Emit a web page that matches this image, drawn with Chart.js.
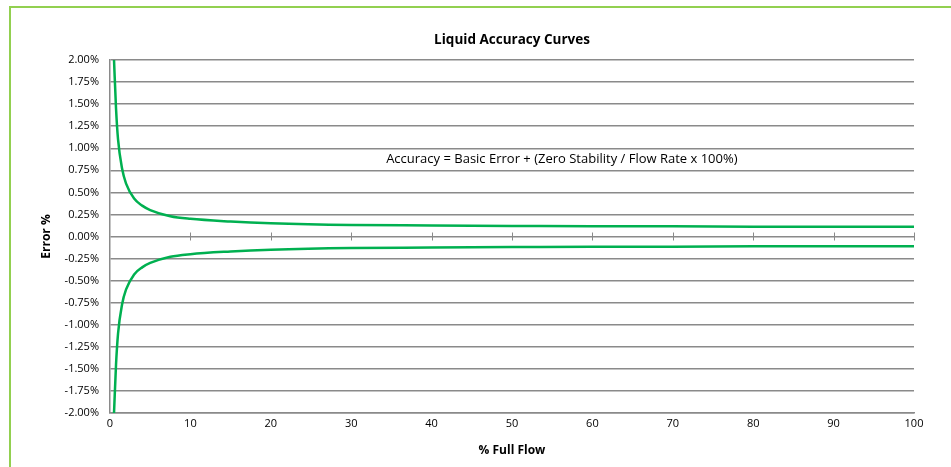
<!DOCTYPE html>
<html>
<head>
<meta charset="utf-8">
<script src="https://cdn.jsdelivr.net/npm/chart.js@4/dist/chart.umd.min.js"></script>
<style>
  html, body { margin: 0; padding: 0; background: #fff; overflow: hidden; }
  #wrap { position: relative; width: 951px; height: 467px; }
  #frame { position: absolute; left: 9px; top: 6px; width: 1000px; height: 500px;
           border-top: 2px solid #92D050; border-left: 2px solid #92D050; }
  canvas { position: absolute; left: 0; top: 0; }
</style>
</head>
<body>
<div id="wrap">
  <div id="frame"></div>
  <canvas id="chart" width="951" height="467"></canvas>
</div>
<script>
// values
const flowPct = [0.5, 0.75, 1, 1.5, 2, 3, 4, 5, 7.5, 10, 15, 20, 30, 40, 50, 60, 70, 80, 90, 100];
const upperError = [2.0, 1.45, 1.1, 0.77, 0.6, 0.43, 0.35, 0.3, 0.23, 0.2, 0.17, 0.15, 0.13, 0.125, 0.12, 0.115, 0.115, 0.11, 0.11, 0.11];
const lowerError = [-2.0, -1.45, -1.1, -0.77, -0.6, -0.43, -0.35, -0.3, -0.23, -0.2, -0.17, -0.15, -0.13, -0.125, -0.12, -0.115, -0.115, -0.11, -0.11, -0.11];
const xTicks = [0, 10, 20, 30, 40, 50, 60, 70, 80, 90, 100];

const chartTitle = 'Liquid Accuracy Curves';
const xTitle = '% Full Flow';
const yTitle = 'Error %';
const note = 'Accuracy = Basic Error + (Zero Stability / Flow Rate x 100%)';

const lineColor = '#00B050';
const gridColor = '#8a8a8a';
const textFont = '"Open Sans", "Liberation Sans", sans-serif';

const toPoints = (xs, ys) => xs.map((x, i) => ({ x: x, y: ys[i] }));

const extrasPlugin = {
    id: 'extras',
    afterDraw(chart) {
        const ctx = chart.ctx;
        const area = chart.chartArea;
        const xs = chart.scales.x;
        const ys = chart.scales.y;
        ctx.save();

        // tick marks on the zero line
        const y0 = ys.getPixelForValue(0);
        ctx.strokeStyle = gridColor;
        ctx.lineWidth = 1;
        xTicks.slice(1).forEach(v => {
            const px = Math.round(xs.getPixelForValue(v)) + 0.5;
            ctx.beginPath();
            ctx.moveTo(px, y0 - 4);
            ctx.lineTo(px, y0 + 4);
            ctx.stroke();
        });

        // titles
        ctx.fillStyle = '#000';
        ctx.textAlign = 'center';
        ctx.textBaseline = 'middle';
        ctx.font = 'bold 13.5px ' + textFont;
        ctx.fillText(chartTitle, (area.left + area.right) / 2, 40);
        ctx.font = 'bold 12px ' + textFont;
        ctx.fillText(xTitle, (area.left + area.right) / 2, 451);
        ctx.save();
        ctx.translate(47, (area.top + area.bottom) / 2);
        ctx.rotate(-Math.PI / 2);
        ctx.fillText(yTitle, 0, 0);
        ctx.restore();

        // formula note
        ctx.font = '13px ' + textFont;
        ctx.fillText(note, xs.getPixelForValue(56.2), ys.getPixelForValue(0.87));
        ctx.restore();
    }
};

new Chart(document.getElementById('chart'), {
    type: 'line',
    data: {
        datasets: [
            {
                label: 'Upper',
                data: toPoints(flowPct, upperError),
                borderColor: lineColor,
                borderWidth: 2.5,
                pointRadius: 0,
                cubicInterpolationMode: 'monotone',
                fill: false
            },
            {
                label: 'Lower',
                data: toPoints(flowPct, lowerError),
                borderColor: lineColor,
                borderWidth: 2.5,
                pointRadius: 0,
                cubicInterpolationMode: 'monotone',
                fill: false
            }
        ]
    },
    options: {
        responsive: false,
        animation: false,
        layout: { padding: { top: 60, right: 37, left: 0, bottom: 0 } },
        plugins: {
            legend: { display: false },
            title: { display: false },
            tooltip: { enabled: false }
        },
        scales: {
            x: {
                type: 'linear',
                min: 0,
                max: 100,
                afterBuildTicks: (axis) => { axis.ticks = xTicks.map(v => ({ value: v })); },
                grid: { display: false, drawTicks: false },
                border: { display: true, color: gridColor, width: 1.5 },
                ticks: {
                    color: '#000',
                    font: { family: textFont, size: 11 },
                    padding: 4,
                    maxRotation: 0
                },
                afterFit: (axis) => { axis.height = 54; }
            },
            y: {
                min: -2,
                max: 2,
                ticks: {
                    stepSize: 0.25,
                    color: '#000',
                    font: { family: textFont, size: 11 },
                    padding: 11,
                    callback: (v) => v.toFixed(2) + '%'
                },
                grid: { color: gridColor, lineWidth: 1.5, drawTicks: false },
                border: { display: true, color: gridColor, width: 1.5 },
                afterFit: (axis) => { axis.width = 110; }
            }
        }
    },
    plugins: [extrasPlugin]
});
</script>
</body>
</html>
